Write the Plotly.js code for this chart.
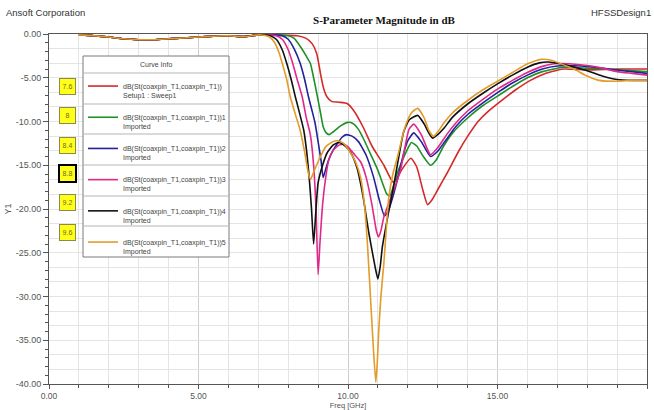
<!DOCTYPE html>
<html>
<head>
<meta charset="utf-8">
<script src="https://cdn.plot.ly/plotly-3.0.1.min.js"></script>
<style>
  html, body { margin: 0; padding: 0; background: #ffffff; }
  #chart { width: 654px; height: 410px; }
</style>
</head>
<body>
<div id="chart"></div>
<script>
// ---- data (Freq in GHz, magnitude in dB) ----
const seriesNames = [
  'dB(St(coaxpin_T1,coaxpin_T1))<br>Setup1 : Sweep1',
  'dB(St(coaxpin_T1,coaxpin_T1))1<br>Imported',
  'dB(St(coaxpin_T1,coaxpin_T1))2<br>Imported',
  'dB(St(coaxpin_T1,coaxpin_T1))3<br>Imported',
  'dB(St(coaxpin_T1,coaxpin_T1))4<br>Imported',
  'dB(St(coaxpin_T1,coaxpin_T1))5<br>Imported'
];
const boxLabels = ['7.6', '8', '8.4', '8.8', '9.2', '9.6'];
const seriesColors = ['#d42a2a', '#1f8f2a', '#22229a', '#e0288c', '#111111', '#e39b2a'];

const redFreq = [1.0,1.5,2.0,2.5,3.0,3.5,4.0,4.5,5.0,5.5,6.0,6.5,7.0,7.5,8.0,8.3,8.6,8.8,8.95,9.02,9.1,9.2,9.3,9.45,9.7,9.97,10.2,10.5,10.8,11.0,11.2,11.42,11.5,11.6,11.8,12.1,12.3,12.5,12.66,12.8,13.0,13.33,13.7,14.0,14.35,14.67,15.1,15.6,16.1,16.6,17.2,18.0,19.0,20.0];
const redDb   = [-0.1,-0.2,-0.35,-0.55,-0.65,-0.65,-0.55,-0.45,-0.35,-0.25,-0.2,-0.3,-0.1,-0.1,-0.15,-0.2,-0.5,-1.1,-2.2,-3.35,-4.9,-6.4,-7.2,-7.7,-7.8,-7.95,-8.8,-10.6,-12.8,-13.9,-15.0,-16.5,-16.9,-16.7,-15.5,-14.2,-15.2,-17.8,-19.5,-19.0,-17.8,-15.8,-13.4,-11.7,-10.0,-8.9,-7.7,-6.4,-5.3,-4.5,-4.0,-4.1,-4.0,-4.0];

const greenFreq = [1.0,1.5,2.0,2.5,3.0,3.5,4.0,4.5,5.0,5.5,6.0,6.5,7.0,7.5,8.0,8.2,8.4,8.6,8.74,8.85,8.98,9.08,9.17,9.27,9.37,9.5,9.75,10.0,10.15,10.35,10.55,10.75,10.99,11.15,11.3,11.4,11.5,11.66,11.85,12.0,12.12,12.3,12.5,12.76,12.95,13.2,13.5,14.0,14.5,15.0,15.5,16.0,16.5,17.2,18.0,19.0,20.0];
const greenDb   = [-0.1,-0.2,-0.35,-0.55,-0.65,-0.65,-0.55,-0.45,-0.35,-0.25,-0.2,-0.3,-0.1,-0.1,-0.2,-0.5,-1.4,-2.5,-3.35,-5.0,-7.2,-9.0,-10.6,-11.3,-11.5,-11.2,-10.5,-10.1,-10.2,-10.9,-12.2,-13.7,-15.5,-17.0,-18.3,-18.5,-17.6,-15.8,-14.2,-13.1,-12.4,-12.8,-13.9,-15.0,-14.4,-12.8,-11.3,-9.6,-8.2,-7.1,-6.0,-5.0,-4.3,-3.8,-3.9,-4.1,-4.3];

const blueFreq = [1.0,1.5,2.0,2.5,3.0,3.5,4.0,4.5,5.0,5.5,6.0,6.5,7.0,7.5,7.8,8.0,8.2,8.4,8.55,8.68,8.8,8.9,9.0,9.1,9.17,9.25,9.35,9.5,9.65,9.8,9.95,10.15,10.35,10.6,10.85,11.05,11.22,11.35,11.5,11.7,11.85,12.0,12.2,12.45,12.76,13.0,13.3,13.6,14.0,14.5,15.0,15.5,16.0,16.5,17.0,17.8,18.5,19.2,20.0];
const blueDb   = [-0.1,-0.2,-0.35,-0.55,-0.65,-0.65,-0.55,-0.45,-0.35,-0.25,-0.2,-0.3,-0.1,-0.1,-0.2,-0.6,-1.7,-3.35,-5.2,-7.2,-8.8,-10.2,-12.3,-14.5,-16.4,-15.5,-14.4,-13.3,-12.5,-11.8,-11.5,-11.7,-12.3,-13.8,-16.3,-19.0,-20.8,-20.2,-18.6,-16.0,-13.8,-12.2,-11.3,-12.3,-14.0,-13.4,-12.0,-10.6,-9.2,-7.9,-6.7,-5.6,-4.7,-4.0,-3.65,-3.65,-3.9,-4.2,-4.5];

const magentaFreq = [1.0,1.5,2.0,2.5,3.0,3.5,4.0,4.5,5.0,5.5,6.0,6.5,7.0,7.3,7.6,7.8,8.0,8.15,8.3,8.47,8.6,8.74,8.85,8.93,9.0,9.06,9.15,9.25,9.35,9.5,9.7,9.85,10.0,10.2,10.42,10.6,10.8,10.95,11.02,11.1,11.2,11.4,11.6,11.76,11.9,12.04,12.2,12.45,12.76,13.0,13.3,13.6,14.0,14.5,15.0,15.5,16.0,16.5,16.9,17.4,18.0,18.5,19.0,19.5,20.0];
const magentaDb   = [-0.1,-0.2,-0.35,-0.55,-0.65,-0.65,-0.55,-0.45,-0.35,-0.25,-0.2,-0.3,-0.1,-0.1,-0.2,-0.6,-1.8,-3.35,-5.2,-7.2,-9.5,-11.5,-15.0,-20.0,-27.5,-24.0,-19.5,-16.5,-14.5,-13.3,-12.7,-12.6,-12.9,-13.7,-14.6,-16.3,-19.5,-22.5,-23.2,-22.5,-20.9,-19.0,-17.2,-15.5,-13.0,-10.9,-10.3,-11.5,-13.8,-13.0,-11.5,-10.2,-8.8,-7.5,-6.3,-5.3,-4.4,-3.7,-3.4,-3.4,-3.6,-3.9,-4.3,-4.5,-4.7];

const blackFreq = [1.0,1.5,2.0,2.5,3.0,3.5,4.0,4.5,5.0,5.5,6.0,6.5,7.0,7.2,7.4,7.6,7.8,7.95,8.1,8.24,8.4,8.52,8.62,8.7,8.78,8.85,8.92,9.0,9.15,9.3,9.5,9.7,9.9,10.1,10.3,10.5,10.7,10.9,11.0,11.08,11.15,11.35,11.52,11.7,11.86,12.05,12.33,12.55,12.7,12.83,13.0,13.2,13.5,14.0,14.5,15.0,15.5,16.0,16.4,16.7,17.1,17.6,18.0,18.5,19.0,19.5,20.0];
const blackDb   = [-0.1,-0.2,-0.35,-0.55,-0.65,-0.65,-0.55,-0.45,-0.35,-0.25,-0.2,-0.3,-0.1,-0.1,-0.2,-0.6,-1.8,-3.35,-5.2,-7.2,-9.3,-11.0,-13.5,-16.3,-20.0,-24.0,-20.5,-17.0,-15.0,-13.6,-12.7,-12.4,-12.8,-13.6,-15.3,-18.5,-22.8,-26.5,-28.0,-26.5,-24.3,-20.5,-17.5,-14.0,-11.2,-9.8,-9.3,-10.3,-11.3,-11.9,-11.5,-10.8,-9.5,-8.0,-6.8,-5.7,-4.7,-3.8,-3.3,-3.2,-3.4,-3.8,-4.2,-4.8,-5.2,-5.3,-5.3];

const orangeFreq = [1.0,1.5,2.0,2.5,3.0,3.5,4.0,4.5,5.0,5.5,6.0,6.5,7.0,7.2,7.4,7.55,7.7,7.8,7.95,8.07,8.25,8.4,8.55,8.68,8.75,8.85,9.0,9.25,9.5,9.65,9.85,10.05,10.25,10.42,10.55,10.65,10.75,10.85,10.93,10.98,11.03,11.1,11.2,11.28,11.36,11.5,11.66,11.85,12.0,12.15,12.33,12.55,12.7,12.86,13.0,13.2,13.5,14.0,14.5,15.0,15.5,16.0,16.45,16.8,17.2,17.6,18.0,18.4,19.0,19.5,20.0];
const orangeDb   = [-0.1,-0.2,-0.35,-0.55,-0.65,-0.65,-0.55,-0.45,-0.35,-0.25,-0.2,-0.3,-0.1,-0.15,-0.4,-1.0,-2.2,-3.35,-5.2,-7.2,-9.3,-11.0,-13.5,-16.0,-16.6,-15.8,-14.6,-12.9,-12.3,-12.2,-12.5,-13.4,-14.6,-16.4,-19.5,-24.0,-30.0,-36.0,-39.8,-37.5,-33.8,-30.0,-26.2,-22.3,-18.8,-16.0,-14.0,-11.3,-9.8,-8.9,-8.5,-9.6,-11.0,-11.7,-11.2,-10.2,-9.0,-7.6,-6.4,-5.4,-4.4,-3.4,-2.9,-3.0,-3.5,-4.1,-4.8,-5.3,-5.4,-5.3,-5.3];

const xTickVals = [0, 5, 10, 15, 20];
const xTickText = ['0.00', '5.00', '10.00', '15.00', '20.00'];
const yTickVals = [0, -5, -10, -15, -20, -25, -30, -35, -40];
const yTickText = ['0.00', '-5.00', '-10.00', '-15.00', '-20.00', '-25.00', '-30.00', '-35.00', '-40.00'];

// ---- build traces ----
const xs = [redFreq, greenFreq, blueFreq, magentaFreq, blackFreq, orangeFreq];
const ys = [redDb, greenDb, blueDb, magentaDb, blackDb, orangeDb];
const traces = xs.map((x, i) => ({
  type: 'scatter', mode: 'lines', x: x, y: ys[i],
  name: seriesNames[i], legendgroup: 'g' + i,
  line: { color: seriesColors[i], width: 1.6, shape: 'spline', smoothing: 0.5 },
  hoverinfo: 'x+y'
}));
// empty helper trace so the overlaid grid axis is drawn
traces.push({ type: 'scatter', mode: 'lines', x: [], y: [], yaxis: 'y2', showlegend: false, hoverinfo: 'skip' });

const sans = 'Liberation Sans, Arial, sans-serif';
const gray = '#555555';

// plot-area mapping helpers (paper coords from pixel positions of the reference)
const L = 49, R = 647, T = 34, B = 384;
const px2x = p => (p - L) / (R - L);
const px2y = p => (B - p) / (B - T);

// legend frame (box + row separators) drawn behind a transparent legend
const legLeft = 83, legRight = 229, legTop = 56, legBottom = 257;
const legRowsY = [73, 104, 134, 165, 196, 226];

const boxCentersY = [86, 115, 145, 173, 202, 232];
const annotations = [
  { text: 'Ansoft Corporation', xref: 'paper', yref: 'paper', x: px2x(4), y: px2y(13),
    xanchor: 'left', yanchor: 'middle', showarrow: false, font: { family: sans, size: 9.5, color: '#333' } },
  { text: 'HFSSDesign1', xref: 'paper', yref: 'paper', x: px2x(653), y: px2y(13),
    xanchor: 'right', yanchor: 'middle', showarrow: false, font: { family: sans, size: 9.5, color: '#333' } },
  { text: 'Curve Info', xref: 'paper', yref: 'paper', x: px2x((legLeft + legRight) / 2), y: px2y(64.5),
    xanchor: 'center', yanchor: 'middle', showarrow: false, font: { family: sans, size: 7, color: '#444' } }
];
boxLabels.forEach((lab, i) => {
  annotations.push({
    text: lab, xref: 'paper', yref: 'paper', x: px2x(67), y: px2y(boxCentersY[i]),
    xanchor: 'center', yanchor: 'middle', showarrow: false,
    width: 11, height: 11, borderpad: 2,
    bgcolor: '#ffff1a', bordercolor: i === 3 ? '#000000' : '#8a8a50', borderwidth: i === 3 ? 2 : 1,
    font: { family: sans, size: 7, color: '#6e6e20' }
  });
});

const shapes = [
  { type: 'rect', xref: 'paper', yref: 'paper', layer: 'above',
    x0: px2x(legLeft), x1: px2x(legRight), y0: px2y(legTop), y1: px2y(legBottom),
    fillcolor: '#ffffff', line: { color: '#7a7a7a', width: 1 } }
];
legRowsY.forEach(yy => shapes.push({
  type: 'line', xref: 'paper', yref: 'paper', layer: 'above',
  x0: px2x(legLeft), x1: px2x(legRight), y0: px2y(yy), y1: px2y(yy),
  line: { color: '#b5b5b5', width: 1 }
}));

const layout = {
  width: 654, height: 410,
  margin: { l: L, r: 654 - R, t: T, b: 410 - B, pad: 0 },
  paper_bgcolor: '#ffffff', plot_bgcolor: '#ffffff',
  title: { text: '<b>S-Parameter Magnitude in dB</b>', xref: 'paper', x: px2x(384), xanchor: 'center',
           yref: 'container', y: 1 - 20 / 410, yanchor: 'middle',
           font: { family: 'Liberation Serif, Times New Roman, serif', size: 11, color: '#111' } },
  font: { family: sans, size: 9, color: gray },
  showlegend: true,
  legend: {
    x: px2x(legLeft), y: px2y(75), xanchor: 'left', yanchor: 'top',
    bgcolor: 'rgba(255,255,255,0)', borderwidth: 0,
    font: { family: sans, size: 7, color: '#444' },
    tracegroupgap: 10, itemwidth: 30, valign: 'top'
  },
  xaxis: {
    range: [0, 20], tickmode: 'array', tickvals: xTickVals, ticktext: xTickText,
    ticks: 'outside', ticklen: 4, tickcolor: gray, tickfont: { family: sans, size: 8.5, color: gray },
    showline: true, linecolor: gray, linewidth: 1, mirror: true,
    showgrid: true, gridcolor: '#cdcdcd', gridwidth: 1, zeroline: false,
    minor: { tickmode: 'linear', tick0: 0, dtick: 1, ticks: 'outside', ticklen: 3, tickcolor: gray,
             showgrid: true, gridcolor: '#e4e4e4', gridwidth: 1 },
    title: { text: 'Freq [GHz]', standoff: 8, font: { family: sans, size: 7.5, color: gray } },
    automargin: false, fixedrange: true
  },
  yaxis: {
    range: [-40, 0], tickmode: 'array', tickvals: yTickVals, ticktext: yTickText,
    ticks: 'outside', ticklen: 5, tickcolor: gray, tickfont: { family: sans, size: 9, color: gray },
    showline: true, linecolor: gray, linewidth: 1, mirror: true,
    showgrid: true, gridcolor: '#cdcdcd', gridwidth: 1, zeroline: false,
    minor: { tickmode: 'linear', tick0: 0, dtick: 1, ticks: 'outside', ticklen: 3, tickcolor: gray, showgrid: false },
    title: { text: 'Y1', standoff: 2, font: { family: sans, size: 9, color: gray } },
    automargin: false, fixedrange: true
  },
  yaxis2: {
    overlaying: 'y', range: [-40, 0], tickmode: 'linear', tick0: 0, dtick: 5 / 3,
    showgrid: true, gridcolor: '#e4e4e4', gridwidth: 1, showticklabels: false, ticks: '',
    showline: false, zeroline: false, fixedrange: true
  },
  shapes: shapes,
  annotations: annotations
};

Plotly.newPlot('chart', traces, layout, { staticPlot: true, displayModeBar: false });
</script>
</body>
</html>
